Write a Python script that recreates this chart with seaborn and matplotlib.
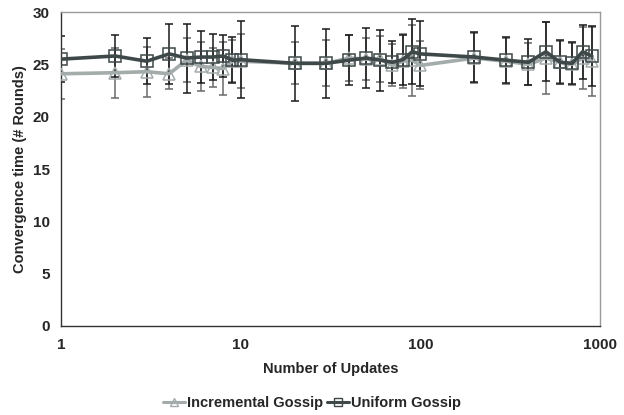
import numpy as np
import pandas as pd
import matplotlib
matplotlib.use("Agg")
import matplotlib.pyplot as plt
import seaborn as sns
from matplotlib.lines import Line2D

updates = [1, 2, 3, 4, 5, 6, 7, 8, 9, 10, 20, 30, 40, 50, 60, 70, 80, 90, 100,
           200, 300, 400, 500, 600, 700, 800, 900]
incremental = [24.1, 24.2, 24.3, 24.1, 25.4, 24.8, 24.7, 24.6, 25.3, 25.3, 25.1, 25.1,
               25.6, 25.5, 25.5, 24.9, 25.3, 25.4, 24.9, 25.6, 25.3, 25.0, 25.6,
               25.2, 25.0, 25.6, 25.3]
incremental_err = [2.4, 2.4, 2.4, 1.5, 2.1, 2.3, 1.9, 2.5, 2.0, 2.6, 2.0, 2.2,
                   2.2, 2.0, 2.2, 2.0, 2.6, 3.4, 2.3, 2.4, 2.2, 2.0, 3.4,
                   2.0, 2.0, 3.0, 3.3]
uniform = [25.5, 25.8, 25.3, 26.0, 25.6, 25.7, 25.7, 25.8, 25.4, 25.45, 25.1, 25.1,
           25.4, 25.6, 25.4, 25.2, 25.45, 26.2, 26.0, 25.7, 25.4, 25.2, 26.2,
           25.2, 25.1, 26.2, 25.8]
uniform_err = [2.2, 2.0, 2.2, 2.9, 3.3, 2.5, 2.2, 2.0, 2.2, 3.7, 3.6, 3.3,
               2.4, 2.9, 2.9, 2.0, 2.4, 3.1, 3.1, 2.4, 2.2, 2.2, 2.8,
               2.1, 2.0, 2.6, 2.9]
series_names = ["Incremental Gossip", "Uniform Gossip"]
x_ticks = [1, 10, 100, 1000]
x_tick_labels = ["1", "10", "100", "1000"]
y_ticks = [0, 5, 10, 15, 20, 25, 30]

df = pd.DataFrame({
    "Updates": updates * 2,
    "Time": incremental + uniform,
    "Err": incremental_err + uniform_err,
    "Series": [series_names[0]] * len(updates) + [series_names[1]] * len(updates),
})

sns.set_style("white")
plt.rcParams["font.family"] = ["Liberation Sans", "DejaVu Sans"]
plt.rcParams["font.weight"] = "bold"

fig = plt.figure(figsize=(6.24, 4.15), dpi=100)
ax = fig.add_axes([0.0978, 0.2145, 0.8637, 0.7565])

colors = {series_names[0]: "#a3abab", series_names[1]: "#3e4848"}
markers = {series_names[0]: "^", series_names[1]: "s"}
err_colors = {series_names[0]: "#6a6a6a", series_names[1]: "#1a1a1a"}

for name in series_names:
    sub = df[df["Series"] == name]
    ax.errorbar(sub["Updates"], sub["Time"], yerr=sub["Err"], fmt="none",
                ecolor=err_colors[name], elinewidth=1.1, capsize=3, capthick=1.1,
                zorder=2)

for name in series_names:
    sub = df[df["Series"] == name]
    sns.lineplot(data=sub, x="Updates", y="Time", ax=ax, color=colors[name],
                 linewidth=2.6, marker=markers[name], markersize=8,
                 markerfacecolor="none", markeredgecolor=colors[name],
                 markeredgewidth=1.1, legend=False, zorder=3)

ax.set_xscale("log")
ax.set_xlim(1, 1000)
ax.set_ylim(0, 30)
ax.xaxis.set_minor_locator(matplotlib.ticker.NullLocator())
ax.set_xticks(x_ticks)
ax.set_xticklabels(x_tick_labels, fontweight="bold", fontsize=11)
ax.set_yticks(y_ticks)
ax.set_yticklabels([str(v) for v in y_ticks], fontweight="bold", fontsize=11)

for s in ["top", "right"]:
    ax.spines[s].set_color("#9a9a9a")
    ax.spines[s].set_linewidth(1.0)
for s in ["left", "bottom"]:
    ax.spines[s].set_color("#333333")
    ax.spines[s].set_linewidth(1.0)

ax.tick_params(axis="both", which="major", direction="out", length=5, width=1,
               color="#333333")
ax.tick_params(axis="x", pad=4)
ax.tick_params(axis="y", pad=3)

ax.set_xlabel("Number of Updates", fontsize=10.5, fontweight="bold", labelpad=7)
ax.set_ylabel("Convergence time (# Rounds)", fontsize=10.5, fontweight="bold", labelpad=4)

handles = [Line2D([], [], color=colors[n], linewidth=2.2, marker=markers[n],
                  markersize=6, markerfacecolor="none", markeredgecolor=colors[n],
                  markeredgewidth=1.0) for n in series_names]
fig.legend(handles, series_names, loc="center", bbox_to_anchor=(0.5, 0.028),
           ncol=2, frameon=False, prop={"weight": "bold", "size": 10.5},
           handlelength=1.5, handletextpad=0.1, columnspacing=0.3)

fig.savefig("out.png", dpi=100)
